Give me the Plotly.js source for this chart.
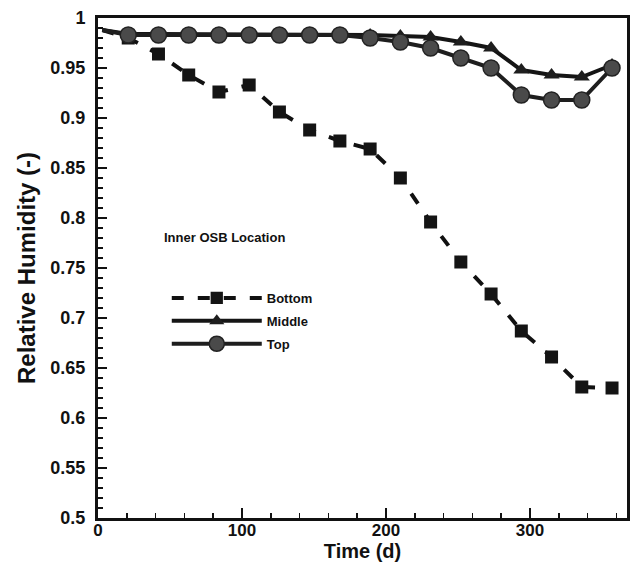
<!DOCTYPE html>
<html>
<head>
<meta charset="utf-8">
<script src="https://cdn.plot.ly/plotly-3.0.1.min.js"></script>
<style>
html,body{margin:0;padding:0;background:#fff;}
#chart{width:635px;height:562px;}
</style>
</head>
<body>
<div id="chart"></div>
<script>
// ---- data ----
var timeDays = [3, 21, 42, 63, 84, 105, 126, 147, 168, 189, 210, 231, 252, 273, 294, 315, 336, 357];
var rhBottom = [0.988, 0.980, 0.964, 0.943, 0.926, 0.933, 0.906, 0.888, 0.877, 0.869, 0.840, 0.796, 0.756, 0.724, 0.687, 0.661, 0.631, 0.630];
var rhMiddle = [0.988, 0.984, 0.984, 0.984, 0.984, 0.984, 0.984, 0.984, 0.984, 0.983, 0.982, 0.981, 0.976, 0.970, 0.948, 0.943, 0.941, 0.953];
var rhTop    = [0.988, 0.983, 0.983, 0.983, 0.983, 0.983, 0.983, 0.983, 0.983, 0.980, 0.976, 0.970, 0.960, 0.950, 0.923, 0.918, 0.918, 0.950];
var seriesNames = ["Bottom", "Middle", "Top"];
var legendTitle = "Inner OSB Location";
var xTitle = "Time (d)";
var yTitle = "Relative Humidity (-)";

function sizes(n) { return timeDays.map(function (t, i) { return i === 0 ? 0 : n; }); }

var FONT = "Liberation Sans, Arial, Helvetica, sans-serif";

var traces = [
  {
    x: timeDays, y: rhBottom, name: seriesNames[0], mode: "lines+markers", legendgroup: "b",
    line: {color: "#111111", width: 4, dash: "12px,14px"},
    marker: {symbol: "square", size: sizes(13), opacity: 1, color: "#141414", line: {width: 0}}
  },
  {
    x: timeDays, y: rhMiddle, name: seriesNames[1], mode: "lines+markers", legendgroup: "m",
    line: {color: "#151515", width: 4},
    marker: {symbol: "triangle-up", size: sizes(14), opacity: 1, color: "#1e1e1e", line: {width: 0}}
  },
  {
    x: timeDays, y: rhTop, name: seriesNames[2], mode: "lines+markers", legendgroup: "t",
    line: {color: "#1e1e1e", width: 4},
    marker: {symbol: "circle", size: sizes(16), opacity: 1, color: "#4a4a4a", line: {width: 1.5, color: "#222222"}}
  }
];

var layout = {
  width: 635, height: 562,
  margin: {l: 98, r: 8, t: 18, b: 44},
  paper_bgcolor: "#ffffff", plot_bgcolor: "#ffffff",
  font: {family: FONT, color: "#111111", weight: "bold"},
  showlegend: true,
  legend: {
    x: 0.13, y: 0.47, xanchor: "left", yanchor: "top",
    bgcolor: "rgba(0,0,0,0)", borderwidth: 0,
    itemwidth: 90, tracegroupgap: 3,
    font: {family: FONT, size: 13, color: "#111111", weight: "bold"}
  },
  xaxis: {
    range: [0, 367.4], tickmode: "linear", tick0: 0, dtick: 100,
    ticks: "inside", ticklen: 10, tickwidth: 2, tickcolor: "#111",
    minor: {dtick: 20, ticks: "inside", ticklen: 5, tickwidth: 1.5, tickcolor: "#111"},
    showline: true, linecolor: "#111", linewidth: 3, mirror: true,
    showgrid: false, zeroline: false, ticklabelstandoff: -5,
    tickfont: {family: FONT, size: 17, color: "#111", weight: "bold"},
    title: {text: xTitle, standoff: 3, font: {family: FONT, size: 20, color: "#111", weight: "bold"}}
  },
  yaxis: {
    range: [0.5, 1], tickmode: "linear", tick0: 0.5, dtick: 0.05,
    ticks: "inside", ticklen: 9, tickwidth: 2, tickcolor: "#111",
    minor: {dtick: 0.01, ticks: "inside", ticklen: 5, tickwidth: 1.5, tickcolor: "#111"},
    showline: true, linecolor: "#111", linewidth: 3, mirror: true,
    showgrid: false, zeroline: false, ticklabelstandoff: 6,
    tickfont: {family: FONT, size: 18, color: "#111", weight: "bold"},
    title: {text: yTitle, standoff: 8, font: {family: FONT, size: 24, color: "#111", weight: "bold"}}
  },
  annotations: [
    {text: legendTitle, xref: "paper", yref: "paper", x: 0.121, y: 1 - (238 - 18) / 500,
     xanchor: "left", yanchor: "middle", showarrow: false,
     font: {family: FONT, size: 13, color: "#111", weight: "bold"}}
  ]
};

Plotly.newPlot("chart", traces, layout, {displayModeBar: false, staticPlot: true});
</script>
</body>
</html>
